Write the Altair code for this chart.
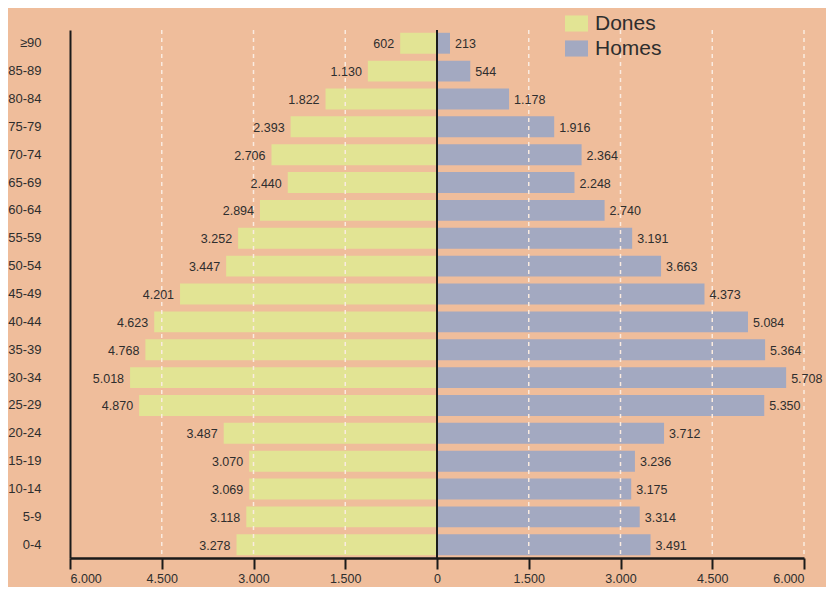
import altair as alt
import pandas as pd

ages = ["≥90", "85-89", "80-84", "75-79", "70-74", "65-69", "60-64", "55-59",
        "50-54", "45-49", "40-44", "35-39", "30-34", "25-29", "20-24", "15-19",
        "10-14", "5-9", "0-4"]
dones = [602, 1130, 1822, 2393, 2706, 2440, 2894, 3252, 3447, 4201, 4623,
         4768, 5018, 4870, 3487, 3070, 3069, 3118, 3278]
homes = [213, 544, 1178, 1916, 2364, 2248, 2740, 3191, 3663, 4373, 5084,
         5364, 5708, 5350, 3712, 3236, 3175, 3314, 3491]
ticks = [-6000, -4500, -3000, -1500, 0, 1500, 3000, 4500, 6000]
grid_vals = [-4500, -3000, -1500, 1500, 3000, 4500, 6000]


def fmt(v):
    return f"{v:,}".replace(",", ".")


rows = []
for a, d, h in zip(ages, dones, homes):
    rows.append({"age": a, "sexe": "Dones", "val": -d, "lab": fmt(d)})
    rows.append({"age": a, "sexe": "Homes", "val": h, "lab": fmt(h)})
df = pd.DataFrame(rows)
grid_df = pd.DataFrame({"g": grid_vals})
zero_df = pd.DataFrame({"g": [0]})

FONT = "Liberation Sans"
TXT = "#2e2e2e"

xscale = alt.Scale(domain=[-6000, 6000], nice=False, zero=False)
yscale = alt.Scale(domain=ages, paddingInner=0.25, paddingOuter=0.1)

xaxis = alt.Axis(values=ticks, title=None, grid=False,
                 labelExpr="replace(format(abs(datum.value), ','), ',', '.')",
                 domainColor="#1a1a1a", domainWidth=2.5, tickColor="#1a1a1a",
                 tickWidth=2, tickSize=11, labelPadding=3, labelFont=FONT,
                 labelFontSize=12.5, labelColor=TXT)
yaxis = alt.Axis(title=None, ticks=False, grid=False, labelPadding=29,
                 domainColor="#1a1a1a", domainWidth=2, labelFont=FONT,
                 labelFontSize=13, labelColor=TXT)

base = alt.Chart(df)

bars = base.mark_bar().encode(
    x=alt.X("val:Q", scale=xscale, axis=xaxis),
    y=alt.Y("age:N", sort=ages, scale=yscale, axis=yaxis),
    color=alt.Color("sexe:N",
                    scale=alt.Scale(domain=["Dones", "Homes"],
                                    range=["#E2E494", "#A3A9C1"]),
                    legend=alt.Legend(title=None, orient="none", legendX=495,
                                      legendY=-18, padding=0,
                                      symbolType="M-1,-0.7L1,-0.7L1,0.7L-1,0.7Z",
                                      symbolSize=529, symbolStrokeWidth=0,
                                      labelFontSize=21, labelFont=FONT,
                                      labelColor=TXT, labelOffset=7,
                                      rowPadding=3)),
)

txt_d = base.transform_filter(alt.datum.sexe == "Dones").mark_text(
    align="right", baseline="middle", dx=-6, dy=1, font=FONT, fontSize=12.5,
    color=TXT).encode(
    x=alt.X("val:Q", scale=xscale),
    y=alt.Y("age:N", sort=ages, scale=yscale),
    text="lab:N")

txt_h = base.transform_filter(alt.datum.sexe == "Homes").mark_text(
    align="left", baseline="middle", dx=5, dy=1, font=FONT, fontSize=12.5,
    color=TXT).encode(
    x=alt.X("val:Q", scale=xscale),
    y=alt.Y("age:N", sort=ages, scale=yscale),
    text="lab:N")

grid = alt.Chart(grid_df).mark_rule(color="#FAEBE0", strokeWidth=1.5,
                                    strokeDash=[4, 4]).encode(
    x=alt.X("g:Q", scale=xscale))

zero = alt.Chart(zero_df).mark_rule(color="#1a1a1a", strokeWidth=2).encode(
    x=alt.X("g:Q", scale=xscale))

chart = alt.layer(bars, grid, zero, txt_d, txt_h).properties(
    width=734, height=528,
    background="#EFBD9B",
    autosize=alt.AutoSizeParams(type="none"),
    padding={"left": 62, "top": 22, "right": 22, "bottom": 29},
).configure_view(stroke=None)

chart.save("out.html", embed_options={"renderer": "svg", "actions": False})
